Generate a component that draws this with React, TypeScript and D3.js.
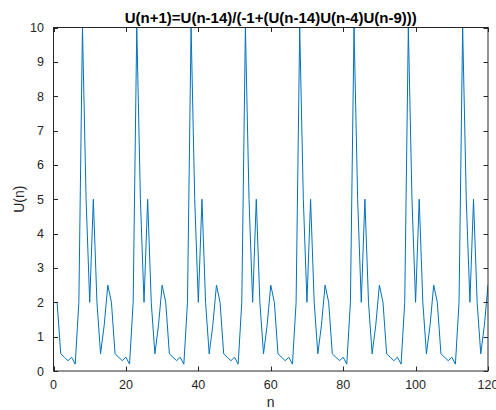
import React, { useEffect, useRef } from 'react';
import * as d3 from 'd3';

const W = 496;
const H = 410;

const titleText = 'U(n+1)=U(n-14)/(-1+(U(n-14)U(n-4)U(n-9)))';
const xLabel = 'n';
const yLabel = 'U(n)';
const xTicks = [0, 20, 40, 60, 80, 100, 120];
const yTicks = [0, 1, 2, 3, 4, 5, 6, 7, 8, 9, 10];
const xDomain = [0, 120];
const yDomain = [0, 10];

// U(1..120) (8 rows of 15 values)
const uValues = [
  2, 0.5, 0.4, 0.3, 0.4, 0.2, 2, 10, 5, 2, 5, 2, 0.5, 1.333, 2.5,
  2, 0.5, 0.4, 0.3, 0.4, 0.2, 2, 10, 5, 2, 5, 2, 0.5, 1.333, 2.5,
  2, 0.5, 0.4, 0.3, 0.4, 0.2, 2, 10, 5, 2, 5, 2, 0.5, 1.333, 2.5,
  2, 0.5, 0.4, 0.3, 0.4, 0.2, 2, 10, 5, 2, 5, 2, 0.5, 1.333, 2.5,
  2, 0.5, 0.4, 0.3, 0.4, 0.2, 2, 10, 5, 2, 5, 2, 0.5, 1.333, 2.5,
  2, 0.5, 0.4, 0.3, 0.4, 0.2, 2, 10, 5, 2, 5, 2, 0.5, 1.333, 2.5,
  2, 0.5, 0.4, 0.3, 0.4, 0.2, 2, 10, 5, 2, 5, 2, 0.5, 1.333, 2.5,
  2, 0.5, 0.4, 0.3, 0.4, 0.2, 2, 10, 5, 2, 5, 2, 0.5, 1.333, 2.5,
];
const nValues = uValues.map((_, i) => i + 1);

export default function App() {
  const ref = useRef<SVGSVGElement>(null);

  useEffect(() => {
    const svg = d3.select(ref.current);
    svg.selectAll('*').remove();

    const left = 53.5, right = 488, top = 27.5, bottom = 371;
    const axisColor = '#262626';
    const font = 'Liberation Sans, Arial, Helvetica, sans-serif';
    const tickLen = 4.5;

    const x = d3.scaleLinear().domain(xDomain).range([left, right]);
    const y = d3.scaleLinear().domain(yDomain).range([bottom, top]);

    svg.append('rect').attr('width', W).attr('height', H).attr('fill', '#fff');

    svg.append('defs').append('clipPath').attr('id', 'clip')
      .append('rect').attr('x', left).attr('y', top - 1)
      .attr('width', right - left).attr('height', bottom - top + 1);

    // data line
    const line = d3.line<number>()
      .x((_, i) => x(nValues[i]))
      .y((d) => y(d));
    svg.append('path')
      .datum(uValues)
      .attr('d', line)
      .attr('fill', 'none')
      .attr('stroke', '#0072BD')
      .attr('stroke-width', 1)
      .attr('stroke-linejoin', 'round')
      .attr('clip-path', 'url(#clip)');

    // box
    svg.append('rect')
      .attr('x', left).attr('y', top)
      .attr('width', right - left).attr('height', bottom - top)
      .attr('fill', 'none').attr('stroke', axisColor).attr('stroke-width', 1);

    const g = svg.append('g').attr('stroke', axisColor).attr('stroke-width', 1);
    xTicks.forEach((t) => {
      const px = Math.round(x(t)) + 0.5;
      g.append('line').attr('x1', px).attr('x2', px).attr('y1', bottom).attr('y2', bottom - tickLen);
      g.append('line').attr('x1', px).attr('x2', px).attr('y1', top).attr('y2', top + tickLen);
    });
    yTicks.forEach((t) => {
      const py = Math.round(y(t)) + 0.5;
      g.append('line').attr('x1', left).attr('x2', left + tickLen).attr('y1', py).attr('y2', py);
      g.append('line').attr('x1', right).attr('x2', right - tickLen).attr('y1', py).attr('y2', py);
    });

    // tick labels
    svg.append('g').selectAll('text').data(xTicks).join('text')
      .attr('x', (d) => x(d)).attr('y', 389)
      .attr('text-anchor', 'middle')
      .attr('font-family', font).attr('font-size', 12.5).attr('fill', axisColor)
      .text((d) => String(d));
    svg.append('g').selectAll('text').data(yTicks).join('text')
      .attr('x', 44).attr('y', (d) => y(d) + 4.5)
      .attr('text-anchor', 'end')
      .attr('font-family', font).attr('font-size', 12.5).attr('fill', axisColor)
      .text((d) => String(d));

    // axis labels
    svg.append('text')
      .attr('x', (left + right) / 2).attr('y', 407)
      .attr('text-anchor', 'middle')
      .attr('font-family', font).attr('font-size', 14).attr('fill', axisColor)
      .text(xLabel);
    svg.append('text')
      .attr('transform', `translate(24,${(top + bottom) / 2}) rotate(-90)`)
      .attr('text-anchor', 'middle')
      .attr('font-family', font).attr('font-size', 14).attr('fill', axisColor)
      .text(yLabel);

    // title
    svg.append('text')
      .attr('x', (left + right) / 2).attr('y', 23)
      .attr('text-anchor', 'middle')
      .attr('font-family', font).attr('font-size', 15).attr('font-weight', 'bold')
      .attr('fill', '#000')
      .text(titleText);
  }, []);

  return (
    <svg
      ref={ref}
      width={W}
      height={H}
      style={{ position: 'fixed', left: 0, top: 0, display: 'block' }}
    />
  );
}
